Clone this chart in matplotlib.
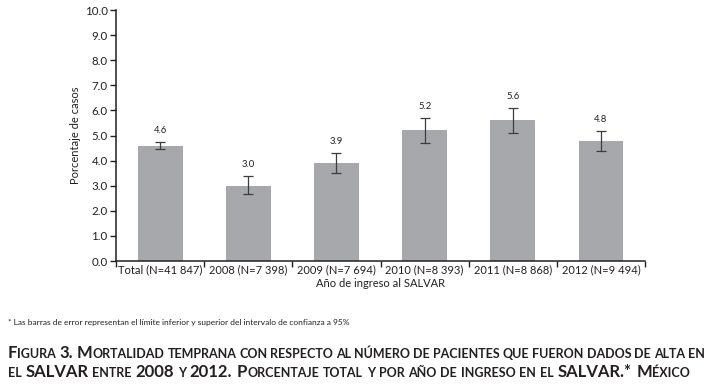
import matplotlib
matplotlib.use("Agg")
import matplotlib.pyplot as plt
import numpy as np

# values
categories = ["Total (N=41 847)", "2008 (N=7 398)", "2009 (N=7 694)",
              "2010 (N=8 393)", "2011 (N=8 868)", "2012 (N=9 494)"]
pct = [4.6, 3.0, 3.9, 5.2, 5.6, 4.8]
ci_low = [4.45, 2.67, 3.49, 4.69, 5.09, 4.37]
ci_high = [4.75, 3.39, 4.29, 5.69, 6.08, 5.19]
yticks = np.arange(0, 10.1, 1.0)

plt.rcParams["font.family"] = ["Lato", "DejaVu Sans"]
ink = "#231f20"

fig = plt.figure(figsize=(7.12, 3.85), dpi=100)
ax = fig.add_axes([0.163, 0.322, 0.743, 0.652])

x = np.arange(len(categories))
pct_a = np.array(pct)
yerr = [pct_a - np.array(ci_low), np.array(ci_high) - pct_a]
ax.bar(x, pct, width=0.51, color="#a7a8ab", zorder=2)
ax.errorbar(x, pct, yerr=yerr, fmt="none", ecolor="#3c3c3c", elinewidth=0.9,
            capsize=3.5, capthick=0.9, zorder=3)
for xi, v, hi in zip(x, pct, ci_high):
    ax.text(xi, hi + 0.28, f"{v:.1f}", ha="center", va="bottom",
            fontsize=6.8, color=ink)

ax.set_xlim(-0.5, len(categories) - 0.5)
ax.set_ylim(0, 10)
ax.set_yticks(yticks)
ax.set_yticklabels([f"{t:.1f}" for t in yticks], fontsize=8.3, color=ink)
ax.set_xticks(np.arange(-0.5, len(categories)), labels=[""] * (len(categories) + 1))
ax.set_xticks(x, labels=categories, minor=True)
ax.tick_params(axis="x", which="minor", length=0, labelsize=8, labelcolor=ink, pad=2)
ax.tick_params(axis="x", which="major", length=4, width=1, color=ink)
ax.tick_params(axis="y", length=4, width=1, color=ink, pad=2)
for side in ("top", "right"):
    ax.spines[side].set_visible(False)
for side in ("left", "bottom"):
    ax.spines[side].set_color(ink)
    ax.spines[side].set_linewidth(1.1)
ax.set_xlabel("Año de ingreso al SALVAR", fontsize=8, color=ink, labelpad=2)
ax.set_ylabel("Porcentaje de casos", fontsize=8, color=ink, labelpad=3)

fig.text(0.011, 1 - 322 / 385,
         "* Las barras de error representan el límite inferior y superior del intervalo de confianza a 95%",
         fontsize=6.0, color=ink, va="center")

# small-caps caption built from pieces: (text, is_big)
line1 = [("F", 1), ("IGURA ", 0), ("3. M", 1), ("ORTALIDAD TEMPRANA CON RESPECTO AL NÚMERO DE PACIENTES QUE FUERON DADOS DE ALTA EN", 0)]
line2 = [("EL ", 0), ("SALVAR", 1), (" ENTRE ", 0), ("2008", 1), (" Y ", 0), ("2012. P", 1),
         ("ORCENTAJE TOTAL Y POR AÑO DE INGRESO EN EL ", 0), ("SALVAR.* M", 1), ("ÉXICO", 0)]
BIG, SMALL = 12.0, 9.0

renderer = fig.canvas.get_renderer()


def text_width(s, size):
    t = fig.text(0, 0, s, fontsize=size, fontweight="bold")
    w = t.get_window_extent(renderer).width
    t.remove()
    return w


def draw_line(pieces, x0, y0, target_width=None):
    # word-level placement so a line can be justified like the original
    words = []
    for s, big in pieces:
        size = BIG if big else SMALL
        for i, word in enumerate(s.split(" ")):
            if i > 0:
                words.append((None, size))
            if word:
                words.append((word, size))
    natural = 0.0
    widths = []
    for w, size in words:
        if w is None:
            ww = text_width("a a", size) - text_width("aa", size)
        else:
            ww = text_width(w, size)
        widths.append(ww)
        natural += ww
    nsp = sum(1 for w, _ in words if w is None)
    per = 0.0
    if target_width and nsp:
        per = (target_width - natural) / nsp
    xs = x0
    for (w, size), ww in zip(words, widths):
        if w is None:
            xs += ww + per
        else:
            fig.text(xs / 712, 1 - y0 / 385, w, fontsize=size, fontweight="bold",
                     color=ink, va="baseline", ha="left")
            xs += ww


draw_line(line1, 8, 358, target_width=697)
draw_line(line2, 8, 377, target_width=682)

fig.savefig("out.png", dpi=100)
